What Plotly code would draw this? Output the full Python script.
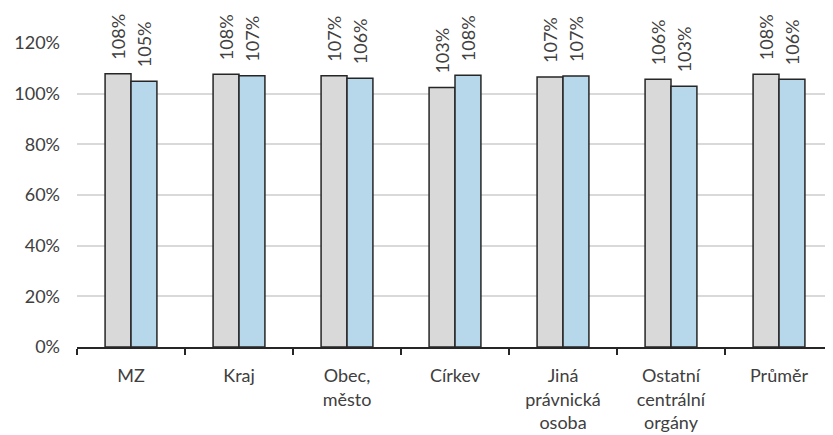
import plotly.graph_objects as go

categories = ["MZ", "Kraj", "Obec,<br>město", "Církev", "Jiná<br>právnická<br>osoba",
              "Ostatní<br>centrální<br>orgány", "Průměr"]
series_a = [1.079, 1.077, 1.071, 1.024, 1.066, 1.057, 1.077]
series_b = [1.049, 1.071, 1.061, 1.073, 1.070, 1.029, 1.057]
labels_a = ["108%", "108%", "107%", "103%", "107%", "106%", "108%"]
labels_b = ["105%", "107%", "106%", "108%", "107%", "103%", "106%"]
y_ticks = [0, 0.2, 0.4, 0.6, 0.8, 1.0, 1.2]
y_ticktext = ["0%", "20%", "40%", "60%", "80%", "100%", "120%"]

FONT = "Lato, 'Open Sans', sans-serif"
TXT = "#404040"
FS = 18
FS_LAB = 18

fig = go.Figure()
fig.add_trace(go.Bar(x=categories, y=series_a, marker=dict(color="#d9d9d9", line=dict(color="#262626", width=1.5)),
                     showlegend=False))
fig.add_trace(go.Bar(x=categories, y=series_b, marker=dict(color="#b7d7eb", line=dict(color="#262626", width=1.5)),
                     showlegend=False))

for i, c in enumerate(categories):
    for val, lab, shift in ((series_a[i], labels_a[i], -13), (series_b[i], labels_b[i], 13)):
        fig.add_annotation(x=c, y=val, text=lab, textangle=-90, showarrow=False,
                           xref="x", yref="y", xshift=shift, yanchor="bottom", yshift=12,
                           font=dict(family=FONT, size=FS_LAB, color=TXT))

# page body has an 8px default margin, so the figure is 8px smaller than the window
fig.update_layout(
    width=825, height=427,
    margin=dict(l=69, r=0, t=35, b=88, autoexpand=False),
    paper_bgcolor="white", plot_bgcolor="white",
    barmode="group", bargap=0.52, bargroupgap=0,
    font=dict(family=FONT, size=FS, color=TXT),
)
fig.update_yaxes(range=[0, 1.2], tickvals=y_ticks, ticktext=y_ticktext, showgrid=True, automargin=False,
                 gridcolor="#d9d9d9", gridwidth=1.5, zeroline=False, showline=False, ticks="",
                 ticklabelstandoff=16,
                 tickfont=dict(family=FONT, size=FS, color=TXT))
fig.update_xaxes(showline=True, linecolor="#262626", linewidth=1.5, ticks="outside", tickson="boundaries",
                 ticklen=6, tickcolor="#262626", tickwidth=1.5, automargin=False,
                 ticklabelstandoff=12,
                 tickfont=dict(family=FONT, size=FS, color=TXT))

fig.write_html("out.html")
